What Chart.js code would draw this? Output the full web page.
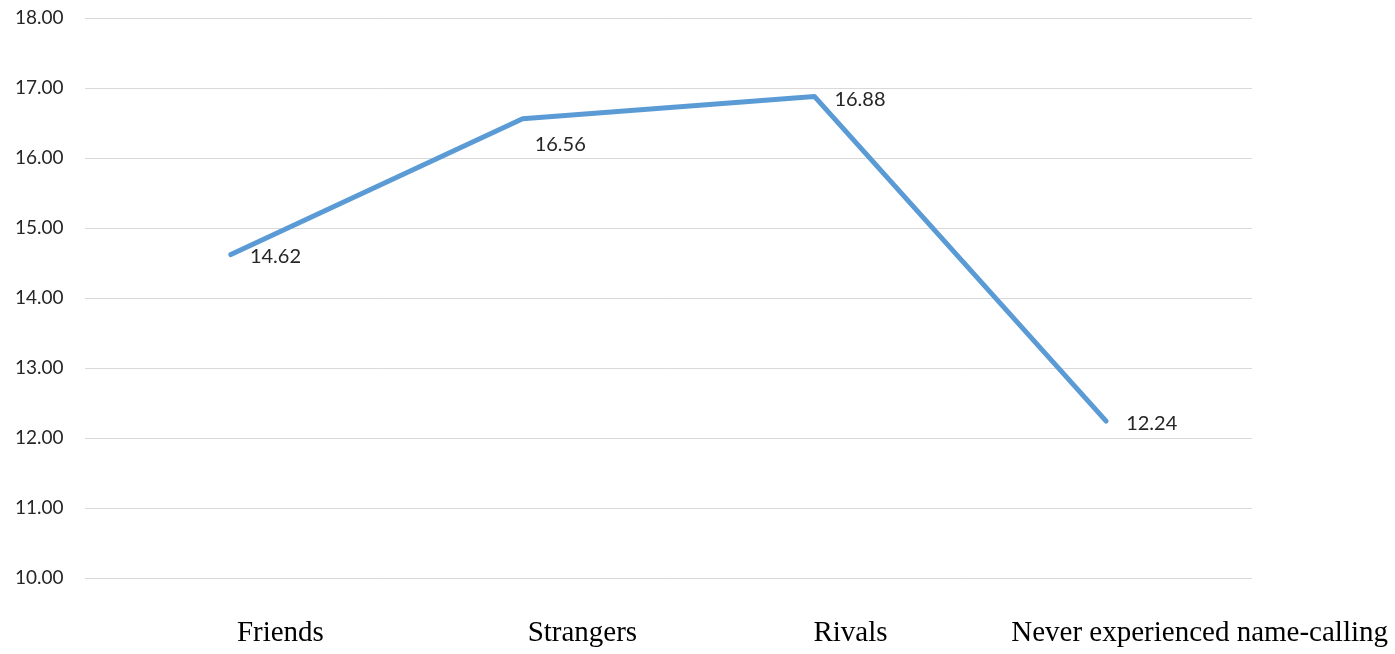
<!DOCTYPE html>
<html>
<head>
<meta charset="utf-8">
<script src="https://cdn.jsdelivr.net/npm/chart.js@4/dist/chart.umd.min.js"></script>
<style>
  html, body { margin: 0; padding: 0; background: #fff; }
  #wrap { width: 1395px; height: 654px; }
</style>
</head>
<body>
<div id="wrap"><canvas id="c" width="1395" height="654"></canvas></div>
<script>
// Mean score by relationship to the name-caller
const categories = ['Friends', 'Strangers', 'Rivals', 'Never experienced name-calling'];
const meanScores = [14.62, 16.56, 16.88, 12.24];
const yTicks = [10, 11, 12, 13, 14, 15, 16, 17, 18];

// Value labels placed beside each point (dx, dy in px from the point)
const labelOffsets = [[19, 2], [12, 26], [20, 3], [20, 2]];
// Horizontal nudge of each category name from its category position
const nameOffsets = [6, 5, -1, 0];

const valueLabels = {
  id: 'valueLabels',
  afterDatasetsDraw(chart) {
    const ctx = chart.ctx;
    const meta = chart.getDatasetMeta(0);
    ctx.save();
    ctx.font = '20px Lato, "Open Sans", sans-serif';
    ctx.fillStyle = '#262626';
    ctx.textAlign = 'left';
    ctx.textBaseline = 'middle';
    meta.data.forEach((pt, i) => {
      const [dx, dy] = labelOffsets[i];
      ctx.fillText(meanScores[i].toFixed(2), pt.x + dx, pt.y + dy);
    });
    ctx.restore();
  }
};

// Category names start at each category's position, kept inside the canvas
const categoryLabels = {
  id: 'categoryLabels',
  afterDraw(chart) {
    const ctx = chart.ctx;
    const xs = chart.scales.x;
    ctx.save();
    ctx.font = '29px "Liberation Serif", "Times New Roman", serif';
    ctx.fillStyle = '#000';
    ctx.textAlign = 'left';
    ctx.textBaseline = 'middle';
    const y = chart.chartArea.bottom + 55;
    categories.forEach((name, i) => {
      const w = ctx.measureText(name).width;
      let x = xs.getPixelForValue(i) + nameOffsets[i];
      x = Math.min(x, chart.width - 7 - w);
      ctx.fillText(name, x, y);
    });
    ctx.restore();
  }
};

new Chart(document.getElementById('c'), {
  type: 'line',
  data: {
    labels: categories,
    datasets: [{
      data: meanScores,
      borderColor: '#5B9BD5',
      borderWidth: 5,
      borderCapStyle: 'round',
      borderJoinStyle: 'round',
      pointRadius: 0,
      pointHoverRadius: 0,
      tension: 0,
      fill: false
    }]
  },
  options: {
    responsive: false,
    animation: false,
    devicePixelRatio: 1,
    layout: { padding: { left: 15, right: 143, top: 18, bottom: 0 } },
    plugins: { legend: { display: false }, tooltip: { enabled: false } },
    scales: {
      x: {
        offset: true,
        grid: { display: false, drawTicks: false },
        border: { display: false },
        ticks: { display: false },
        afterFit(scale) { scale.height = 76; }
      },
      y: {
        min: 10,
        max: 18,
        afterBuildTicks(scale) { scale.ticks = yTicks.map(v => ({ value: v })); },
        grid: { color: '#D9D9D9', lineWidth: 1, drawTicks: false },
        border: { display: false },
        ticks: {
          color: '#262626',
          font: { family: 'Lato, "Open Sans", sans-serif', size: 19 },
          padding: 0,
          crossAlign: 'far',
          callback: v => Number(v).toFixed(2)
        },
        afterFit(scale) { scale.width = 70; }
      }
    }
  },
  plugins: [valueLabels, categoryLabels]
});
</script>
</body>
</html>
